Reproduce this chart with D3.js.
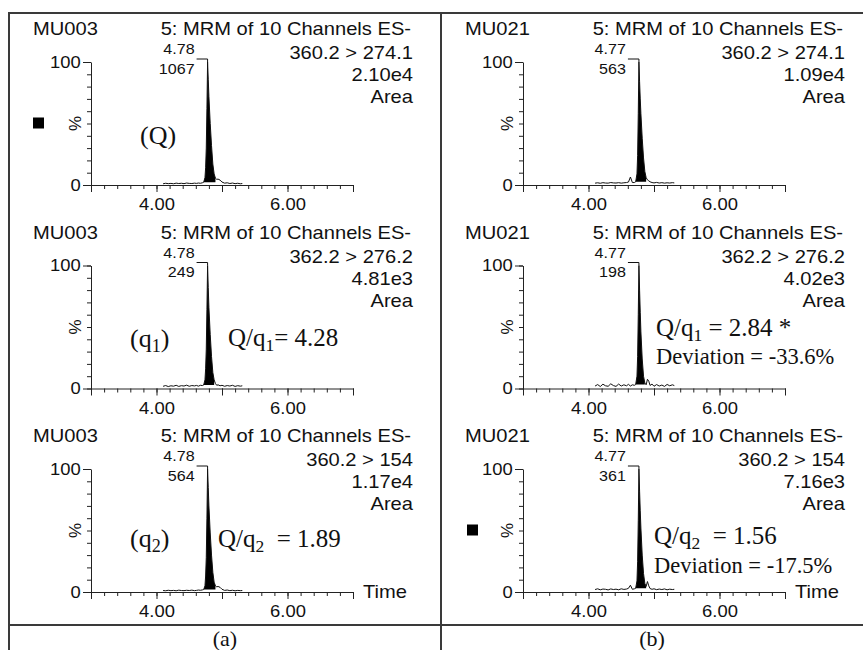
<!DOCTYPE html>
<html>
<head>
<meta charset="utf-8">
<script src="https://cdn.jsdelivr.net/npm/d3@7"></script>
<style>
  body { margin: 0; background: #fff; }
  svg { display: block; }
  .sans { font-family: "Liberation Sans", Arial, Helvetica, sans-serif; fill: #111; }
  .serif { font-family: "Liberation Serif", "Times New Roman", serif; fill: #111; }
</style>
</head>
<body>
<svg id="chart" width="863" height="650"></svg>
<script>
// retention time grid (min), shared by all six chromatograms
const rtGrid = [4.10,4.14,4.18,4.22,4.26,4.30,4.34,4.38,4.42,4.46,4.50,4.54,4.58,4.61,4.64,4.67,4.70,4.72,4.74,4.75,4.76,4.77,4.78,4.79,4.80,4.82,4.84,4.86,4.88,4.90,4.92,4.94,4.97,5.00,5.04,5.08,5.12,5.16,5.20,5.24,5.28,5.31];

// relative intensity (%)
const pctA1 = [1.0,1.4,1.1,1.3,1.0,1.5,1.2,1.4,1.1,1.6,1.3,1.2,1.5, 1.3,1.6,1.4,1.8,2.2, 6,14,30,62,100,86,72, 50,32,17,9,5.5,4.6,4.8,4.0, 2.4,1.5,1.8,1.2,1.6,1.1,1.4,1.0,1.2];
const pctA2 = [1.8,2.4,1.6,2.2,1.9,2.6,1.7,2.3,2.0,2.7,1.8,2.4,2.1, 2.5,1.9,2.6,2.4,2.8, 7,16,32,64,100,82,66, 44,26,13,7,4,2.6,3.0,2.2, 2.6,1.8,2.4,2.0,2.6,1.7,2.3,1.9,2.2];
const pctA3 = [1.2,1.0,1.4,1.1,1.3,1.0,1.5,1.2,1.1,1.4,1.2,1.5,1.1, 1.3,1.6,1.4,1.7,2.0, 5,13,28,60,100,85,70, 48,30,16,8,5,4.2,4.5,3.8, 2.2,1.3,1.6,1.1,1.4,1.0,1.3,1.1,1.2];
const pctB1 = [1.5,1.8,1.4,1.9,1.6,1.5,2.0,1.7,1.6,1.9,1.5,1.8,2.0, 2.4,6.5,2.0,2.0,2.6, 9,24,58,100,84,70,58, 38,22,11,6,4.2,3.4,2.6,2.0, 1.7,2.1,1.6,1.9,1.5,1.8,1.6,1.9,1.7];
const pctB2 = [2.0,3.2,1.6,3.5,2.2,1.8,3.8,2.4,1.7,3.6,2.0,3.0,2.2, 3.4,2.0,3.0,2.6,3.2, 10,26,60,100,80,62,46, 24,10,4.5,3.0,7.5,6.0,2.5,3.6, 1.8,3.2,2.0,2.8,1.7,3.3,2.2,3.0,2.4];
const pctB3 = [2.0,2.6,1.8,2.4,2.2,1.7,2.5,2.0,2.3,1.8,2.6,2.1,2.4, 3.0,5.5,2.2,2.6,3.0, 9,25,58,100,82,66,52, 30,15,7,4.5,8.5,5.0,2.8,2.2, 2.6,1.9,2.4,2.0,2.5,1.8,2.3,2.0,2.2];

const sampleNames = ["MU003", "MU021"];
const channelTitle = "5: MRM of 10 Channels ES-";
const transitions = ["360.2 > 274.1", "362.2 > 276.2", "360.2 > 154"];
const peakAreas = [["2.10e4", "4.81e3", "1.17e4"], ["1.09e4", "4.02e3", "7.16e3"]];
const apexTimes = [[4.78, 4.78, 4.78], [4.77, 4.77, 4.77]];
const apexHeights = [[1067, 249, 564], [563, 198, 361]];
const integStart = [[4.72, 4.72, 4.72], [4.72, 4.72, 4.72]];
const integEnd = [[4.90, 4.88, 4.90], [4.88, 4.86, 4.88]];
const traces = [[pctA1, pctA2, pctA3], [pctB1, pctB2, pctB3]];

const xDomain = [3, 7];
const xMajorTicks = [3, 4, 5, 6, 7];
const xLabelled = [4, 6];
const yMinorTicks = [0, 10, 20, 30, 40, 50, 60, 70, 80, 90, 100];
const yMajorTicks = [0, 100];
const panelLabels = ["(a)", "(b)"];

const svg = d3.select("#chart");
const stretch = 1.15;
const ink = "#222";

function sansText(g, x, y, str, size, anchor) {
  return g.append("text").attr("class", "sans")
    .attr("transform", `translate(${x},${y}) scale(${stretch},1)`)
    .attr("text-anchor", anchor || "start")
    .attr("dy", "0.35em")
    .style("font-size", size + "px")
    .text(str);
}

function serifNote(g, x, y, size, pre, sub, post) {
  const t = g.append("text").attr("class", "serif")
    .attr("x", x).attr("y", y).attr("dy", "0.35em")
    .style("font-size", size + "px");
  t.append("tspan").text(pre);
  if (sub) {
    t.append("tspan").attr("dy", size * 0.2).style("font-size", (size * 0.7) + "px").text(sub);
    t.append("tspan").attr("dy", -size * 0.2).text(post);
  }
  return t;
}

// frame
const frame = svg.append("g").attr("stroke", "#3a3a3a").attr("stroke-width", 2);
frame.append("line").attr("x1", 9).attr("x2", 863).attr("y1", 13).attr("y2", 13);
frame.append("line").attr("x1", 9).attr("x2", 9).attr("y1", 12).attr("y2", 650);
frame.append("line").attr("x1", 441).attr("x2", 441).attr("y1", 12).attr("y2", 650);
frame.append("line").attr("x1", 9).attr("x2", 863).attr("y1", 625).attr("y2", 625);

const panelX = [0, 432];
const rowPitch = 203.5;

panelX.forEach((ox, p) => {
  const pg = svg.append("g");
  for (let r = 0; r < 3; r++) {
    const y0 = 185 + r * rowPitch;
    const g = pg.append("g");
    const x = d3.scaleLinear().domain(xDomain).range([ox + 91, ox + 353]);
    const y = d3.scaleLinear().domain([0, 100]).range([y0, y0 - 123]);

    // x axis: minor ticks every 0.2 min, major every minute
    g.append("g").attr("transform", `translate(0,${y0})`).attr("color", ink)
      .call(d3.axisBottom(x).tickValues(d3.range(3, 7.001, 0.2)).tickSize(4).tickSizeOuter(0).tickFormat(""));
    const xa = g.append("g").attr("transform", `translate(0,${y0})`).attr("color", ink)
      .call(d3.axisBottom(x).tickValues(xMajorTicks).tickSize(7).tickSizeOuter(0).tickPadding(7)
        .tickFormat(d => xLabelled.includes(d) ? d.toFixed(2) : ""));
    xa.select(".domain").remove();
    xa.selectAll("text").attr("class", "sans").attr("fill", "#111")
      .style("font-size", "16px").attr("font-family", null)
      .attr("transform", `scale(${stretch},1)`);

    // y axis
    g.append("g").attr("transform", `translate(${ox + 91},0)`).attr("color", ink)
      .call(d3.axisLeft(y).tickValues(yMinorTicks).tickSize(4).tickSizeOuter(0).tickFormat(""));
    const ya = g.append("g").attr("transform", `translate(${ox + 91},0)`).attr("color", ink)
      .call(d3.axisLeft(y).tickValues(yMajorTicks).tickSize(8).tickSizeOuter(0).tickPadding(1).tickFormat(d3.format("d")));
    ya.select(".domain").remove();
    ya.selectAll("text").attr("class", "sans").attr("fill", "#111")
      .style("font-size", "16px").attr("font-family", null)
      .attr("transform", `scale(${stretch},1)`);

    g.append("text").attr("class", "sans")
      .attr("transform", `translate(${ox + 75},${y(50)}) rotate(-90)`)
      .attr("text-anchor", "middle").attr("dy", "0.35em")
      .style("font-size", "17px").text("%");

    // chromatogram
    const vals = traces[p][r];
    const pts = rtGrid.map((t, i) => [t, vals[i]]);
    const inPeak = pts.filter(d => d[0] >= integStart[p][r] - 1e-9 && d[0] <= integEnd[p][r] + 1e-9);
    const base = inPeak[0][1];
    g.append("path").datum(inPeak)
      .attr("fill", "#000")
      .attr("d", d3.area().x(d => x(d[0])).y0(y(base)).y1(d => y(d[1])));
    g.append("path").datum(pts)
      .attr("fill", "none").attr("stroke", "#111").attr("stroke-width", 1)
      .attr("d", d3.line().x(d => x(d[0])).y(d => y(d[1])));

    // apex label with leader
    const ax = x(apexTimes[p][r]);
    sansText(g, ax - 13, y0 - 135.5, apexTimes[p][r].toFixed(2), 14, "end");
    sansText(g, ax - 13, y0 - 116, String(apexHeights[p][r]), 14, "end");
    g.append("path")
      .attr("d", `M${ax - 11},${y(100) - 3}H${ax}V${y(100)}`)
      .attr("fill", "none").attr("stroke", "#111").attr("stroke-width", 1);

    // header block
    sansText(g, ox + 33, y0 - 156, sampleNames[p], 17.5, "start");
    sansText(g, ox + 411, y0 - 156, channelTitle, 17.5, "end");
    sansText(g, ox + 413, y0 - 132, transitions[r], 17.5, "end");
    sansText(g, ox + 413, y0 - 110, peakAreas[p][r], 17.5, "end");
    sansText(g, ox + 413, y0 - 88, "Area", 17.5, "end");

    if (r === 2) sansText(g, ox + 363, y0, "Time", 17.5, "start");
  }
});

// annotations
const rowY0 = r => 185 + r * rowPitch;
const ann = svg.append("g");
serifNote(ann, 140, rowY0(0) - 50, 26, "(Q)");
serifNote(ann, 130, rowY0(1) - 51, 26, "(q", "1", ")");
serifNote(ann, 228, rowY0(1) - 51, 25, "Q/q", "1", "= 4.28");
serifNote(ann, 130, rowY0(2) - 54, 26, "(q", "2", ")");
serifNote(ann, 218, rowY0(2) - 54, 25, "Q/q", "2", "\u00a0\u00a0= 1.89");
serifNote(ann, 432 + 224, rowY0(1) - 61, 25, "Q/q", "1", " = 2.84 *");
serifNote(ann, 432 + 224, rowY0(1) - 32, 22.5, "Deviation = -33.6%");
serifNote(ann, 432 + 222, rowY0(2) - 57, 25, "Q/q", "2", "\u00a0\u00a0= 1.56");
serifNote(ann, 432 + 222, rowY0(2) - 27, 22.5, "Deviation = -17.5%");

// filled square markers
ann.append("rect").attr("x", 33).attr("y", rowY0(0) - 67.5).attr("width", 11).attr("height", 11).attr("fill", "#000");
ann.append("rect").attr("x", 432 + 35).attr("y", rowY0(2) - 67.5).attr("width", 11).attr("height", 11).attr("fill", "#000");

// panel captions
panelLabels.forEach((lab, i) => {
  ann.append("text").attr("class", "serif")
    .attr("x", i === 0 ? 225 : 652).attr("y", 638).attr("dy", "0.35em")
    .attr("text-anchor", "middle").style("font-size", "22px").text(lab);
});
</script>
</body>
</html>
